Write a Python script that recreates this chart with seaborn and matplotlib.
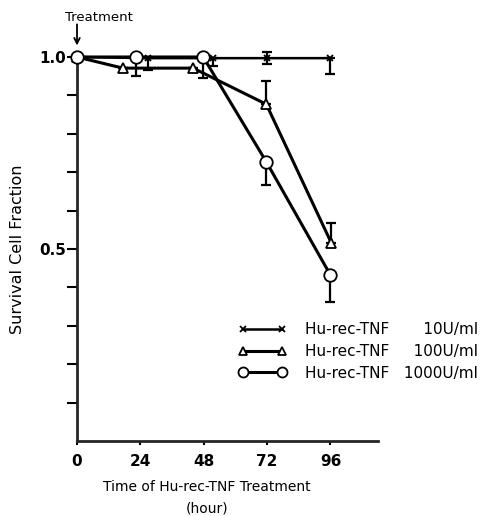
import pandas as pd
import seaborn as sns
import matplotlib.pyplot as plt
from matplotlib.lines import Line2D

# data (hours, survival fraction)
hours_10 = [0, 26.9, 51.6, 72, 96]
surv_10 = [1.0, 0.997, 0.997, 0.997, 0.997]
err_lo_10 = [0, 0.03, 0.02, 0.015, 0.04]
err_hi_10 = [0, 0, 0, 0.015, 0]

hours_100 = [0, 17.4, 44, 71.7, 96.3]
surv_100 = [1.0, 0.971, 0.971, 0.877, 0.516]
err_lo_100 = [0, 0, 0, 0, 0]
err_hi_100 = [0, 0, 0, 0.06, 0.052]

hours_1000 = [0, 22.4, 47.8, 71.7, 96]
surv_1000 = [1.0, 1.0, 1.0, 0.727, 0.432]
err_lo_1000 = [0, 0.05, 0.055, 0.06, 0.07]
err_hi_1000 = [0, 0, 0, 0, 0]

labels = ['Hu-rec-TNF   \u2007\u200710U/ml',
          'Hu-rec-TNF   \u2007100U/ml',
          'Hu-rec-TNF   1000U/ml']
x_ticks = [0, 24, 48, 72, 96]

sns.set_style('ticks')
plt.rcParams['font.family'] = ['DejaVu Sans']
for k in ('text.color', 'axes.labelcolor', 'xtick.color', 'ytick.color'):
    plt.rcParams[k] = 'black'

fig = plt.figure(figsize=(4.85, 5.16), dpi=100)
ax = fig.add_axes([77 / 485, 75 / 516, 301 / 485, 384 / 516])

series = [
    (hours_10, surv_10, err_lo_10, err_hi_10, 'x', 5, 1.8),
    (hours_100, surv_100, err_lo_100, err_hi_100, '^', 7.5, 2.2),
    (hours_1000, surv_1000, err_lo_1000, err_hi_1000, 'o', 9, 2.2),
]

handles = []
for (hx, sy, lo, hi, mk, ms, lw), lab in zip(series, labels):
    ax.errorbar(hx, sy, yerr=[lo, hi], fmt='none', ecolor='black',
                elinewidth=1.6, capsize=3.5, capthick=1.6, zorder=2,
                clip_on=False)
    sns.lineplot(x=hx, y=sy, ax=ax, color='black', linewidth=lw,
                 marker=mk, markersize=ms, markerfacecolor='white',
                 markeredgecolor='black', markeredgewidth=1.3,
                 zorder=3, clip_on=False)
    handles.append(Line2D([], [], color='black', linewidth=lw, marker=mk,
                          markersize=ms * 0.8, markerfacecolor='white',
                          markeredgecolor='black', markeredgewidth=1.3,
                          label=lab))

ax.set_xlim(0, 114)
ax.set_ylim(0, 1.0)
ax.set_xticks(x_ticks)
ax.set_xticklabels([str(t) for t in x_ticks], fontsize=11, fontweight='bold')
ax.set_yticks([0.1 * i for i in range(1, 11)])
ax.set_yticklabels(['' if i not in (5, 10) else f'{i / 10:.1f}' for i in range(1, 11)],
                   fontsize=11, fontweight='bold')
ax.tick_params(axis='y', direction='out', length=7, width=1.5, pad=1)
ax.tick_params(axis='x', direction='out', length=3, width=1.5, pad=6)
sns.despine(ax=ax)
for s in ('left', 'bottom'):
    ax.spines[s].set_linewidth(2)

ax.set_ylabel('Survival Cell Fraction', fontsize=11.5, labelpad=10)
ax.set_xlabel('')
fig.text(207 / 485, 1 - 487 / 516, 'Time of Hu-rec-TNF Treatment',
         ha='center', va='center', fontsize=10)
fig.text(207 / 485, 1 - 508 / 516, '(hour)', ha='center', va='center',
         fontsize=10)

# "Treatment" label with a vertical arrow down to the start point
fig.text(99 / 485, 1 - 17 / 516, 'Treatment', ha='center', va='center',
         fontsize=9.5)
ax.annotate('', xy=(0, 1.03), xytext=(0, 1.085), xycoords='data',
            arrowprops=dict(arrowstyle='->', color='black', lw=1.3,
                            shrinkA=0, shrinkB=0),
            annotation_clip=False)

ax.legend(handles=handles, loc='upper left', frameon=False,
          bbox_to_anchor=(238 / 485, 1 - 322 / 516),
          bbox_transform=fig.transFigure, numpoints=2, handlelength=3.2,
          handletextpad=1.2, borderpad=0, borderaxespad=0,
          labelspacing=0.45, fontsize=11)

fig.savefig('out.png', dpi=100)
